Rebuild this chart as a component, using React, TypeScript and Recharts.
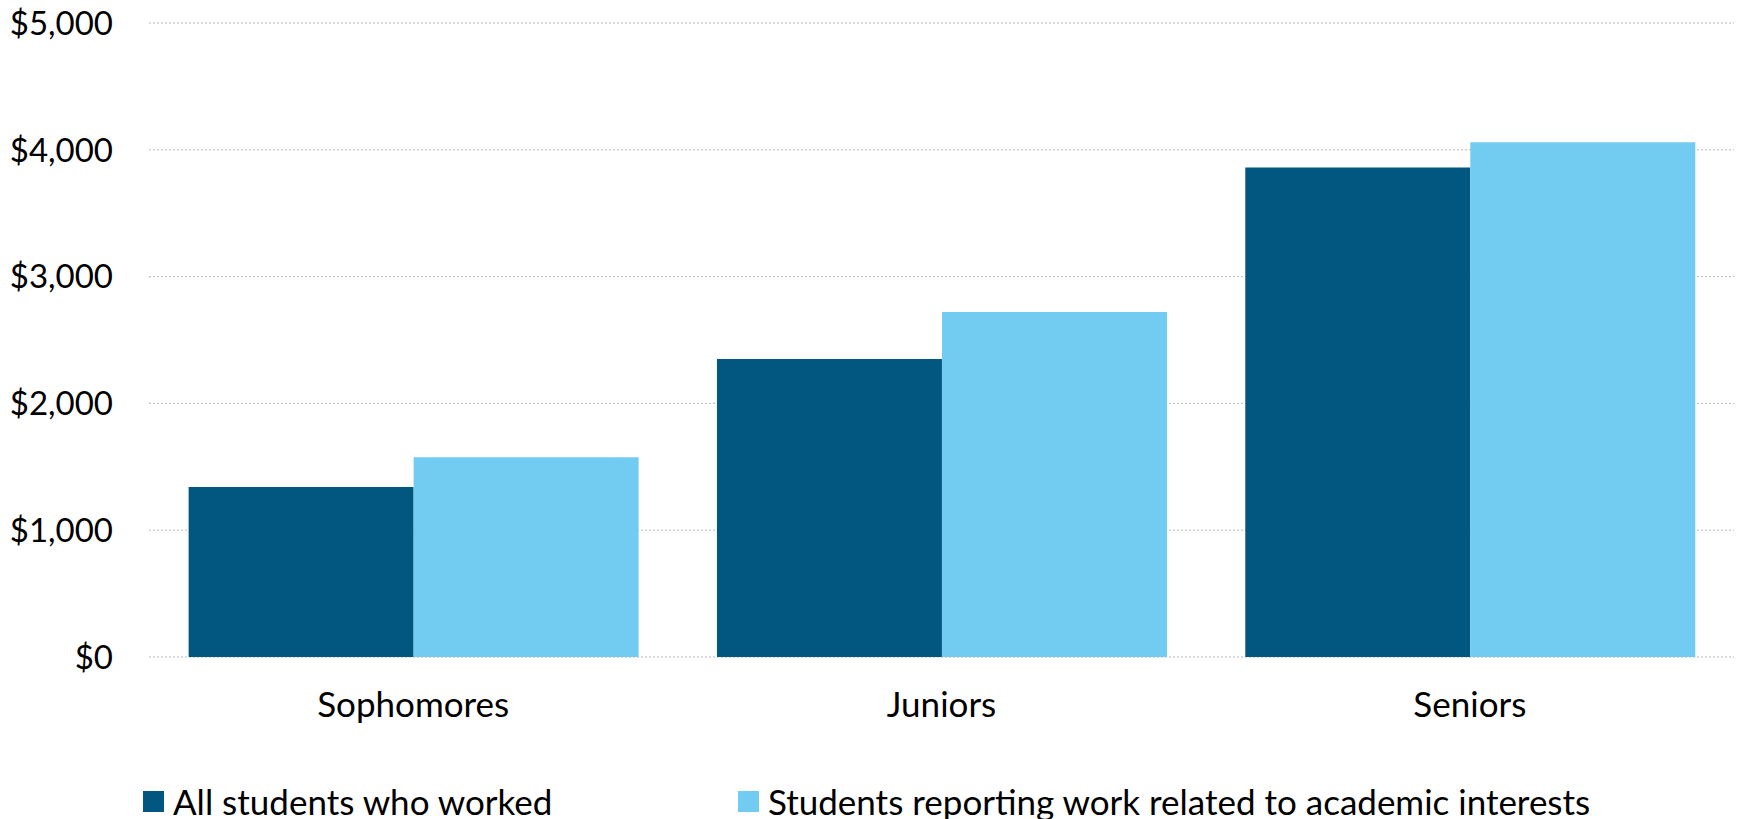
import React from 'react';
import { BarChart, Bar, XAxis, YAxis, CartesianGrid, Legend } from 'recharts';

const classYears = ['Sophomores', 'Juniors', 'Seniors'];
const allWorked = [1340, 2350, 3860];
const relatedWork = [1575, 2720, 4060];
const yTicks = [0, 1000, 2000, 3000, 4000, 5000];

const seriesNames = ['All students who worked', 'Students reporting work related to academic interests'];
const DARK = '#025780';
const LIGHT = '#72ccf2';

const data = classYears.map((name, i) => ({
  name,
  all: allWorked[i],
  related: relatedWork[i],
}));

const FONT = 'Lato, "Open Sans", sans-serif';

const formatDollar = (v: number) => '$' + v.toLocaleString('en-US');

function LegendContent(props: any) {
  const payload = props.payload || [];
  return (
    <div style={{ height: 36, position: 'relative', fontFamily: FONT, fontSize: 35, color: '#000' }}>
      {payload.map((entry: any, idx: number) => (
        <div
          key={idx}
          style={{
            position: 'absolute',
            left: idx === 0 ? 143 : 738,
            top: 0,
            display: 'flex',
            alignItems: 'center',
            height: 36,
            whiteSpace: 'nowrap',
          }}
        >
          <span style={{ display: 'inline-block', width: 21, height: 21, background: entry.color, marginRight: 9 }} />
          <span>{entry.value}</span>
        </div>
      ))}
    </div>
  );
}

export default function App() {
  return (
    <div style={{ position: 'absolute', left: 0, top: 0, width: 1740, height: 819, background: '#fff' }}>
      <BarChart
        width={1740}
        height={819}
        data={data}
        margin={{ top: 23, right: 6, bottom: 0, left: 0 }}
        barCategoryGap="7.5%"
        barGap={0}
      >
        <CartesianGrid vertical={false} stroke="#b8b8b8" strokeDasharray="2 2" />
        <XAxis
          dataKey="name"
          axisLine={false}
          tickLine={false}
          tickSize={0}
          tickMargin={35}
          height={126}
          tick={{ fontFamily: FONT, fontSize: 35, fill: '#000' }}
        />
        <YAxis
          domain={[0, 5000]}
          ticks={yTicks}
          axisLine={false}
          tickLine={false}
          tickSize={0}
          tickMargin={36}
          width={149}
          tickFormatter={formatDollar}
          tick={{ fontFamily: FONT, fontSize: 33, fill: '#000' }}
        />
        <Legend verticalAlign="bottom" content={<LegendContent />} wrapperStyle={{ width: 1740, left: 0 }} />
        <Bar dataKey="all" name={seriesNames[0]} fill={DARK} isAnimationActive={false} />
        <Bar dataKey="related" name={seriesNames[1]} fill={LIGHT} isAnimationActive={false} />
      </BarChart>
    </div>
  );
}
